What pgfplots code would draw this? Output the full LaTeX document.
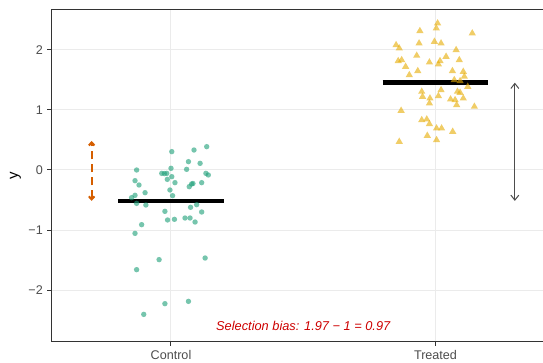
\documentclass[border=0pt]{standalone}
\usepackage{pgfplots}
\pgfplotsset{compat=1.18}
\usepackage{fontspec}
\setmainfont{Liberation Sans}
\usetikzlibrary{arrows.meta}
\definecolor{ctrlgreen}{HTML}{1B9E77}
\definecolor{trtyellow}{HTML}{E6AB02}
\definecolor{arroworange}{HTML}{D55E00}
\definecolor{gridgray}{HTML}{EBEBEB}
\definecolor{framegray}{HTML}{333333}
\definecolor{textgray}{HTML}{4D4D4D}
\definecolor{biasred}{HTML}{CD0000}

\pgfplotstableread{
x y
1.003 0.306
1.087 0.333
1.135 0.389
1.066 0.139
1.110 0.111
0.870 0.000
1.059 0.011
0.965 -0.056
0.984 -0.056
1.000 0.028
1.003 -0.111
0.986 -0.156
1.015 -0.211
1.132 -0.056
1.141 -0.083
0.864 -0.178
0.879 -0.250
1.078 -0.233
1.083 -0.225
1.069 -0.278
1.116 -0.211
0.996 -0.333
0.902 -0.378
1.006 -0.428
0.851 -0.461
0.864 -0.422
0.870 -0.556
0.905 -0.583
1.097 -0.578
1.074 -0.622
0.977 -0.689
1.116 -0.700
0.987 -0.833
1.013 -0.822
1.053 -0.800
1.072 -0.800
1.091 -0.867
0.889 -0.911
0.864 -1.056
0.955 -1.494
1.129 -1.467
0.870 -1.661
0.977 -2.228
1.066 -2.189
0.897 -2.406
0.975 -0.060
}\control

\pgfplotstableread{
x y
2.008 2.445
2.003 2.361
1.941 2.317
2.139 2.278
1.851 2.083
1.863 2.028
1.938 2.111
1.996 2.139
2.021 2.111
2.078 2.000
1.929 1.906
1.859 1.817
1.872 1.833
1.977 1.794
2.017 1.817
2.011 1.761
2.040 1.889
2.090 1.833
1.887 1.722
1.933 1.650
1.901 1.583
2.064 1.650
2.105 1.639
2.109 1.556
2.071 1.500
2.093 1.483
2.122 1.389
1.948 1.306
1.951 1.222
2.021 1.333
2.011 1.233
1.979 1.194
1.977 1.111
2.083 1.306
2.093 1.289
2.057 1.178
2.074 1.167
2.105 1.194
2.080 1.083
2.147 1.056
1.870 0.989
1.948 0.833
1.967 0.844
1.977 0.767
2.004 0.694
2.023 0.694
2.065 0.639
1.969 0.572
2.004 0.500
1.863 0.472
}\treated

\begin{document}
\begin{tikzpicture}
\begin{axis}[
  at={(0,0)}, anchor=south west,
  scale only axis, width=493pt, height=331pt,
  xmin=0.5501, xmax=2.414, ymin=-2.85, ymax=2.6667,
  xtick={1,2}, xticklabels={Control,Treated},
  ytick={-2,-1,0,1,2}, yticklabels={−2,−1,0,1,2},
  grid=major, major grid style={gridgray, line width=1pt},
  axis line style={framegray, line width=1pt},
  tick style={framegray, line width=1pt},
  tick align=outside, major tick length=4.5pt,
  xtick pos=bottom, ytick pos=left,
  ticklabel style={font=\fontsize{12.6}{14}\selectfont, text=textgray, inner sep=0pt},
  xticklabel style={yshift=-4.5pt},
  yticklabel style={xshift=-4.5pt},
  ylabel={y},
  every axis y label/.style={at={(axis description cs:0,0.5)}, rotate=90, anchor=center, yshift=36.5pt, font=\fontsize{15}{17}\selectfont},
]
\addplot[only marks, color=ctrlgreen, mark=*, mark size=2.7pt,
  mark options={draw opacity=0, fill=ctrlgreen, fill opacity=0.6}] table[x=x, y=y] {\control};
\addplot[only marks, color=trtyellow, mark=triangle*, mark size=4.2pt,
  mark options={draw opacity=0, fill=trtyellow, fill opacity=0.6}] table[x=x, y=y] {\treated};
% group means
\addplot[black, line width=4.7pt] coordinates {(0.8,-0.515) (1.2,-0.515)};
\addplot[black, line width=4.7pt] coordinates {(1.8,1.455) (2.2,1.455)};
% true effect and observed difference
\addplot[arroworange, line width=2.1pt, dash pattern=on 8pt off 5pt,
  {Straight Barb[length=3pt,width=5.5pt]}-{Straight Barb[length=3pt,width=5.5pt]}]
  coordinates {(0.7,-0.515) (0.7,0.485)};
\addplot[textgray, line width=1pt,
  {Straight Barb[length=5pt,width=8pt]}-{Straight Barb[length=5pt,width=8pt]}]
  coordinates {(2.3,-0.515) (2.3,1.455)};
\node[font=\itshape\fontsize{12.8}{14}\selectfont, text=biasred] at (axis cs:1.5,-2.6) {Selection bias: 1.97 − 1 = 0.97};
\end{axis}
\pgfresetboundingbox
\path[use as bounding box] (-52pt,-21pt) rectangle (491pt,341pt);
\end{tikzpicture}
\end{document}
